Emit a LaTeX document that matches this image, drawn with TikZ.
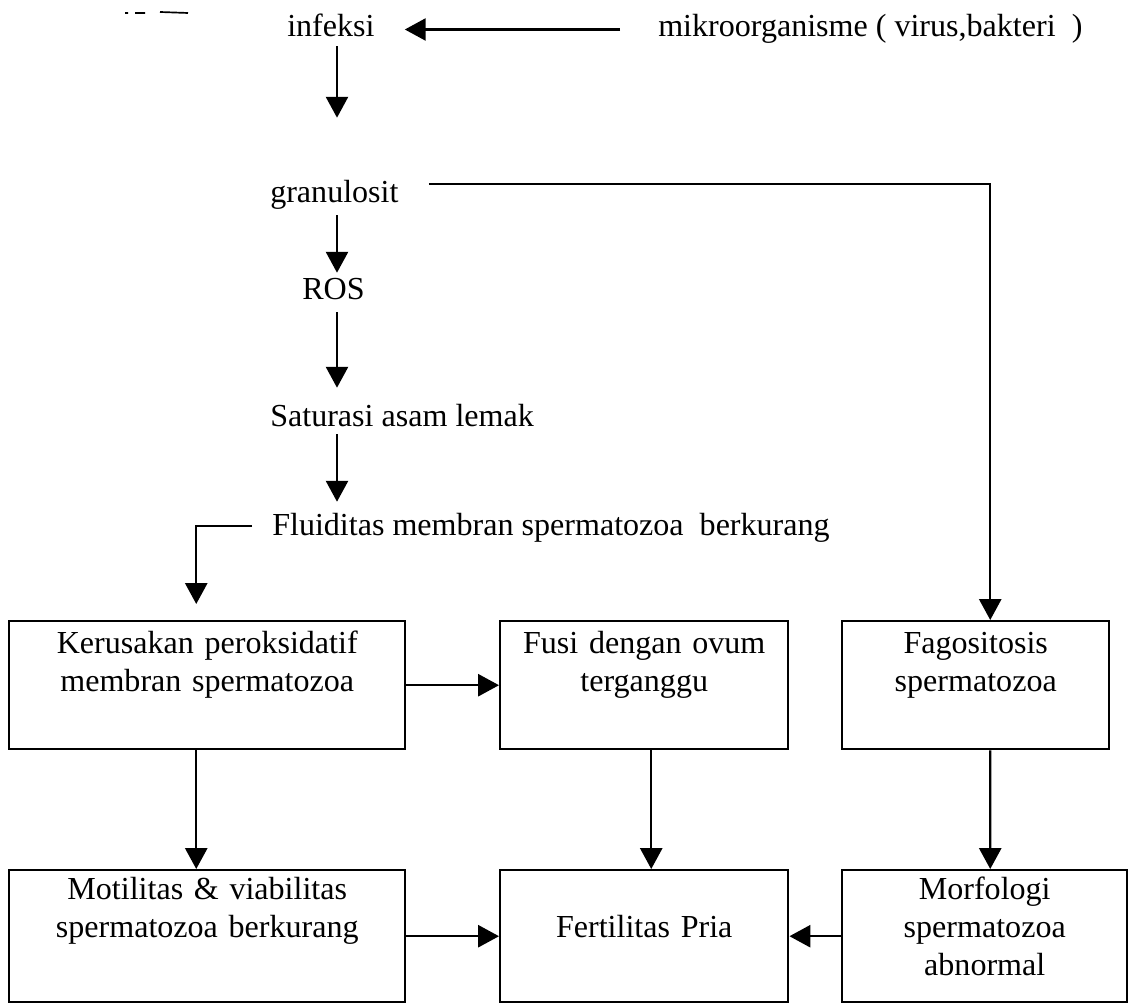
\documentclass[tikz,border=0pt]{standalone}
\usepackage{fontspec}
\setmainfont{Liberation Serif}
\usetikzlibrary{arrows.meta}
\begin{document}
\begin{tikzpicture}[x=0.025cm, y=-0.025cm,
  every node/.style={font=\fontsize{22.8pt}{27pt}\selectfont},
  txt/.style={inner sep=0pt, text height=0.55cm, text depth=0.175cm, anchor=base west},
  box/.style={draw, line width=1.7pt, inner sep=0pt, align=center, anchor=north west},
  toprow/.style={box, text height=0.8cm, text depth=2.4cm},
  botrow/.style={box, text height=0.725cm, text depth=2.575cm},
  arr/.style={line width=1.6pt, -{Triangle[length=0.52cm, width=0.55cm]}},
]
\useasboundingbox (0,0) rectangle (1135,1003);

% chain of causes
\node[txt] (infeksi)    at (287,37)  {infeksi};
\node[txt] (mikro)      at (658,37)  {mikroorganisme ( virus,bakteri \ )};
\node[txt] (granulosit) at (270,203) {granulosit};
\node[txt] (ros)        at (302,300) {ROS};
\node[txt] (saturasi)   at (270,427) {Saturasi asam lemak};
\node[txt] (fluiditas)  at (272,535) {Fluiditas membran spermatozoa\ \ berkurang};

% effects
\node[toprow, text width=9.9cm]   (kerusakan)   at (8,620)   {Kerusakan peroksidatif\\membran spermatozoa};
\node[toprow, text width=7.2cm]   (fusi)        at (499,620) {Fusi dengan ovum\\terganggu};
\node[toprow, text width=6.675cm] (fagositosis) at (841,620) {Fagositosis\\spermatozoa};
\node[botrow, text width=9.9cm]   (motilitas)   at (8,869)   {Motilitas \& viabilitas\\spermatozoa berkurang};
\node[box, text width=7.2cm, text height=1.675cm, text depth=1.625cm] (fertilitas) at (499,869) {Fertilitas Pria};
\node[botrow, text width=7.125cm] (morfologi)   at (841,869) {Morfologi\\spermatozoa\\abnormal};

% vertical spine of the chain
\coordinate (spine) at (337,0);
\draw[arr, shorten <=0.05cm, shorten >=1.575cm] (infeksi.south -| spine) -- (granulosit.north -| spine);
\draw[arr, shorten <=0.125cm, shorten >=0.125cm] (granulosit.south -| spine) -- (ros.north -| spine);
\draw[arr, shorten <=0.125cm, shorten >=0.425cm] (ros.south -| spine) -- (saturasi.north -| spine);
\draw[arr, shorten >=0.275cm] (saturasi.south -| spine) -- (fluiditas.north -| spine);

\draw[arr, shorten <=0.95cm, shorten >=0.75cm] (mikro.west) -- (infeksi.east);
\draw[arr] (granulosit.east) ++(30,-11.5) -| ([shift={(14.5,0)}]fagositosis.north);
\draw[arr] (fluiditas.west) ++(-20,-1.5) -| ([shift={(-11,-16)}]kerusakan.north);

% links between the boxes
\draw[arr] (kerusakan.east) -- (fusi.west);
\draw[arr] (motilitas.east) -- (fertilitas.west);
\draw[arr] (morfologi.west) -- (fertilitas.east);
\draw[arr] ([shift={(-11,0)}]kerusakan.south) -- ([shift={(-11,0)}]motilitas.north);
\draw[arr] ([shift={(7,0)}]fusi.south) -- ([shift={(7,0)}]fertilitas.north);
\draw[arr] ([shift={(14.5,0)}]fagositosis.south) -- ([shift={(5.5,0)}]morfologi.north);

% stray strokes in the top left corner
\draw[line width=1.2pt] (125,13) -- (128,13) (135,13) -- (145,13) (160,12) -- (188,13);
\end{tikzpicture}
\end{document}
